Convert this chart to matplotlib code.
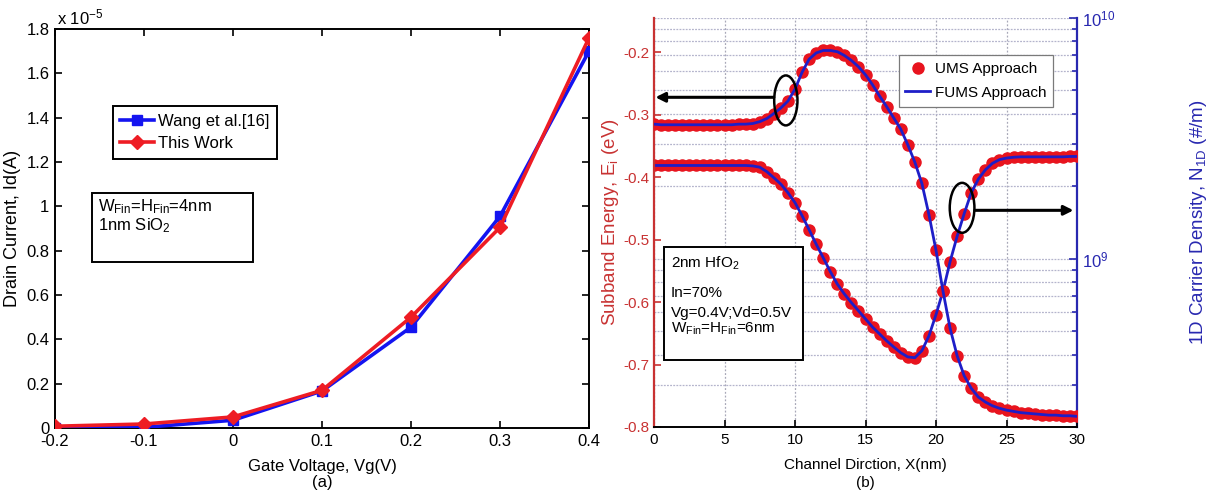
import numpy as np
import matplotlib
matplotlib.use('Agg')
import matplotlib.pyplot as plt
from matplotlib.patches import Ellipse, Rectangle
from matplotlib.ticker import FuncFormatter, NullFormatter, LogLocator

plt.rcParams['font.family'] = ['Liberation Sans', 'DejaVu Sans']
plt.rcParams['axes.unicode_minus'] = False
plt.rcParams['mathtext.default'] = 'regular'

FS_B = 10.5  # text size of panel (b)

# ---------------- (a) drain current vs gate voltage ----------------
gate_voltage = [-0.2, -0.1, 0.0, 0.1, 0.2, 0.3, 0.4]
id_wang_e5 = [0.0, 0.003, 0.035, 0.167, 0.455, 0.955, 1.70]   # x 1e-5 A
id_this_e5 = [0.008, 0.018, 0.050, 0.170, 0.500, 0.905, 1.76]  # x 1e-5 A
a_yticks_e5 = [0, 0.2, 0.4, 0.6, 0.8, 1.0, 1.2, 1.4, 1.6, 1.8]

# ---------------- (b) subband energy and carrier density ----------------
x_nm = np.arange(0, 30.01, 0.5)
subband_ev = [
    -0.315, -0.316, -0.316, -0.316, -0.316, -0.316, -0.316, -0.316, -0.316, -0.316,
    -0.316, -0.316, -0.315, -0.315, -0.314, -0.311, -0.306, -0.298, -0.289, -0.278,
    -0.259, -0.232, -0.211, -0.201, -0.197, -0.197, -0.199, -0.205, -0.213, -0.223,
    -0.236, -0.252, -0.270, -0.287, -0.305, -0.323, -0.348, -0.376, -0.410, -0.460,
    -0.517, -0.583, -0.642, -0.686, -0.718, -0.738, -0.752, -0.760, -0.766, -0.770,
    -0.773, -0.775, -0.777, -0.778, -0.779, -0.780, -0.781, -0.781, -0.782, -0.782,
    -0.783,
]
carrier_e9 = [  # x 1e9 per metre
    2.44, 2.44, 2.44, 2.44, 2.44, 2.44, 2.44, 2.44, 2.44, 2.44,
    2.44, 2.44, 2.44, 2.44, 2.43, 2.40, 2.30, 2.17, 2.04, 1.88,
    1.71, 1.51, 1.32, 1.15, 1.01, 0.885, 0.785, 0.714, 0.657, 0.608,
    0.562, 0.520, 0.487, 0.456, 0.430, 0.407, 0.391, 0.388, 0.415, 0.478,
    0.586, 0.735, 0.973, 1.24, 1.54, 1.88, 2.14, 2.34, 2.49, 2.58,
    2.62, 2.64, 2.65, 2.65, 2.65, 2.65, 2.65, 2.65, 2.65, 2.66,
    2.66,
]
b_xticks = [0, 5, 10, 15, 20, 25, 30]
b_yticks = [-0.8, -0.7, -0.6, -0.5, -0.4, -0.3, -0.2]

BLUE_A = '#1414f0'
RED_A = '#ee1c24'
DOT_RED = '#e8141e'
LINE_BLUE = '#1e1ec8'
AX_RED = '#c83232'
AX_BLUE = '#2828b0'

fig = plt.figure(figsize=(12.12, 5.0), dpi=100)

# ======================= panel (a) =======================
ax = fig.add_axes([55 / 1212, 1 - 428 / 500, 534 / 1212, 399 / 500])
id_wang = np.array(id_wang_e5) * 1e-5
id_this = np.array(id_this_e5) * 1e-5
ax.plot(gate_voltage, id_wang, '-s', color=BLUE_A, lw=2.6, ms=7,
        mfc=BLUE_A, mec=BLUE_A, label='Wang et al.[16]', zorder=3)
ax.plot(gate_voltage, id_this, '-D', color=RED_A, lw=2.6, ms=7,
        mfc=RED_A, mec=RED_A, label='This Work', zorder=4)
ax.set_xlim(-0.2, 0.4)
ax.set_ylim(0, 1.8e-5)
ax.set_xticks(gate_voltage)
ax.xaxis.set_major_formatter(FuncFormatter(lambda v, p: f'{v:g}'))
ax.set_yticks(np.array(a_yticks_e5) * 1e-5)
ax.yaxis.set_major_formatter(FuncFormatter(lambda v, p: f'{round(v / 1e-5, 3):g}'))
ax.tick_params(direction='in', top=True, right=True, length=5, width=1.2,
               labelsize=12, pad=4)
for s in ax.spines.values():
    s.set_linewidth(1.4)
ax.text(0.004, 1.004, r'x 10$^{-5}$', transform=ax.transAxes,
        ha='left', va='bottom', fontsize=12)
ax.set_ylabel('Drain Current, Id(A)', fontsize=13)
ax.yaxis.set_label_coords(-0.064, 0.5)
ax.set_xlabel('Gate Voltage, Vg(V)\n(a)', fontsize=12, linespacing=1.1, labelpad=7.5)

leg = ax.legend(loc='upper left', bbox_to_anchor=(0.1086, 0.807),
                borderaxespad=0, fancybox=False, edgecolor='black',
                fontsize=12, handlelength=2.0, handletextpad=0.25,
                labelspacing=0.45, borderpad=0.45, framealpha=1)
leg.get_frame().set_linewidth(1.4)

ax.add_patch(Rectangle((0.0693, 0.416), 0.3015, 0.173, transform=ax.transAxes,
                       fill=False, edgecolor='black', lw=1.4, zorder=5))
ax.text(0.08, 0.578, 'W$_{Fin}$=H$_{Fin}$=4nm\n1nm SiO$_2$', transform=ax.transAxes,
        ha='left', va='top', fontsize=12, linespacing=1.05, zorder=6)

# ======================= panel (b) =======================
rect_b = [654 / 1212, 1 - 427 / 500, 423 / 1212, 409 / 500]
axr = fig.add_axes(rect_b)               # carrier density (log), underneath
axl = fig.add_axes(rect_b, sharex=axr)   # subband energy, on top
axr.set_zorder(0)
axl.set_zorder(1)
axl.patch.set_visible(False)

axr.set_yscale('log')
axr.set_ylim(2e8, 1e10)
axr.set_xlim(0, 30)
axr.yaxis.tick_right()
axr.yaxis.set_label_position('right')
axr.yaxis.set_major_locator(LogLocator(base=10))
axr.yaxis.set_minor_locator(LogLocator(base=10, subs=np.arange(2, 10)))
axr.yaxis.set_minor_formatter(NullFormatter())
axr.set_axisbelow(True)
axr.grid(True, which='both', axis='y', color='#b4b4cc', lw=0.9, ls=(0, (1.5, 1)))
axr.grid(True, which='major', axis='x', color='#a8a8b8', lw=0.9, ls=(0, (1.5, 1.5)))
axr.tick_params(axis='y', which='both', direction='in', colors=AX_BLUE,
                labelcolor=AX_BLUE, labelsize=12, width=1.2)
axr.tick_params(axis='y', which='major', length=6)
axr.tick_params(axis='y', which='minor', length=3.5)
axr.tick_params(axis='x', bottom=False, labelbottom=False)
for k in ('left', 'top', 'bottom'):
    axr.spines[k].set_visible(False)
axr.spines['right'].set_color(AX_BLUE)
axr.spines['right'].set_linewidth(1.6)
axr.set_ylabel('1D Carrier Density, N$_{1D}$ (#/m)', color=AX_BLUE, fontsize=13.5)
axr.yaxis.set_label_coords(1.262, 0.5)

carrier = np.array(carrier_e9) * 1e9
axr.plot(x_nm, carrier, 'o', color=DOT_RED, ms=8, mec=DOT_RED, zorder=3)
axr.plot(x_nm, carrier, '-', color=LINE_BLUE, lw=2.0, zorder=4)

dots, = axl.plot(x_nm, subband_ev, 'o', color=DOT_RED, ms=8, mec=DOT_RED,
                 zorder=3, label='UMS Approach')
line, = axl.plot(x_nm, subband_ev, '-', color=LINE_BLUE, lw=2.0, zorder=4,
                 label='FUMS Approach')
axl.set_ylim(-0.8, -0.145)
axl.set_xlim(0, 30)
axl.set_xticks(b_xticks)
axl.set_yticks(b_yticks)
axl.yaxis.set_major_formatter(FuncFormatter(lambda v, p: f'{v:g}'))
axl.tick_params(axis='x', direction='in', length=5, width=1.2, labelsize=FS_B + 0.5,
                top=False, pad=4)
axl.tick_params(axis='y', direction='in', length=5, width=1.2, colors=AX_RED,
                labelcolor=AX_RED, labelsize=FS_B + 0.5, right=False)
axl.spines['top'].set_visible(False)
axl.spines['right'].set_visible(False)
axl.spines['left'].set_color(AX_RED)
axl.spines['left'].set_linewidth(1.6)
axl.spines['bottom'].set_linewidth(1.4)
axl.set_ylabel('Subband Energy, E$_i$ (eV)', color=AX_RED, fontsize=13.5)
axl.yaxis.set_label_coords(-0.078, 0.5)
axl.set_xlabel('Channel Dirction, X(nm)\n(b)', fontsize=FS_B + 0.5,
               linespacing=1.3, labelpad=8.5)

legb = axl.legend(handles=[dots, line], loc='upper right',
                  bbox_to_anchor=(0.943, 0.9095), borderaxespad=0,
                  fancybox=False, edgecolor='#7a7a7a', fontsize=FS_B + 0.5,
                  handlelength=1.6, handletextpad=0.3, labelspacing=0.65,
                  borderpad=0.45, framealpha=1)
legb.get_frame().set_linewidth(0.9)

# circles and arrows tying each curve to its axis
axl.add_patch(Ellipse((9.35, -0.277), 1.65, 0.08, fill=False, ec='black', lw=1.8, zorder=6))
axl.annotate('', xy=(0.1, -0.272), xytext=(8.5, -0.272),
             arrowprops=dict(arrowstyle='-|>', color='black', lw=2.2,
                             mutation_scale=14, shrinkA=0, shrinkB=0), zorder=6)
axl.add_patch(Ellipse((21.85, -0.449), 1.75, 0.08, fill=False, ec='black', lw=1.8, zorder=6))
axl.annotate('', xy=(29.75, -0.453), xytext=(22.75, -0.453),
             arrowprops=dict(arrowstyle='-|>', color='black', lw=2.2,
                             mutation_scale=14, shrinkA=0, shrinkB=0), zorder=6)

axl.add_patch(Rectangle((0.024, 0.164), 0.328, 0.276, transform=axl.transAxes,
                        fc='white', ec='black', lw=1.4, zorder=7))
box_lines = ['2nm HfO$_2$', 'In=70%', 'Vg=0.4V;Vd=0.5V', 'W$_{Fin}$=H$_{Fin}$=6nm']
box_baselines = [0.389, 0.318, 0.269, 0.232]
for txt, yb in zip(box_lines, box_baselines):
    axl.text(0.040, yb, txt, transform=axl.transAxes, ha='left', va='baseline',
             fontsize=FS_B + 0.5, zorder=8)

fig.savefig('out.png', dpi=100, facecolor='white')
